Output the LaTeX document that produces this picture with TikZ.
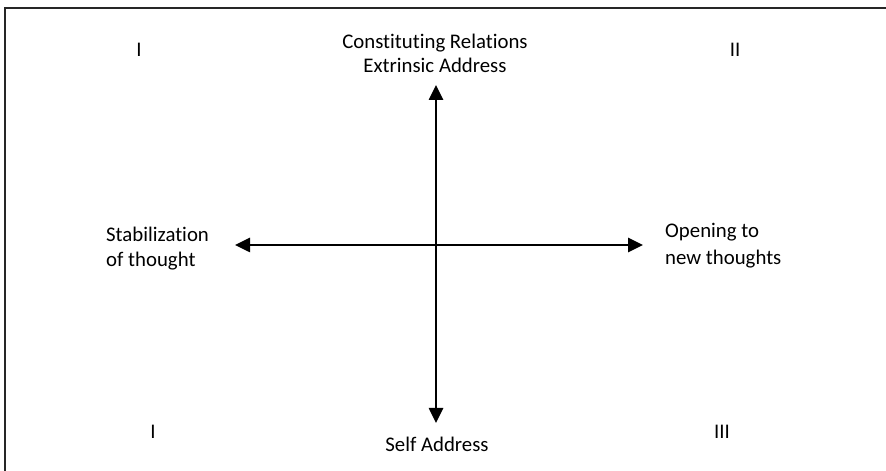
\documentclass[tikz,border=0pt]{standalone}
\usepackage{fontspec}
\setmainfont{Carlito}[Ligatures={NoCommon}]
\usetikzlibrary{arrows.meta}
\begin{document}
\begin{tikzpicture}[x=1pt,y=1pt,
  lbl/.style={inner sep=0pt, anchor=base, font=\fontsize{20.8}{24}\selectfont},
  lblw/.style={lbl, anchor=base west},
  axis/.style={line width=2.6pt, {Triangle[length=15pt,width=14pt]}-{Triangle[length=15pt,width=14pt]}},
  frame/.style={line width=1.6pt, black!85}]
\useasboundingbox (0,0) rectangle (886,471);
\draw[frame] (5,-5) -- (5,462.7) -- (891,462.7);
\coordinate (vtop) at (436,386);
\coordinate (vbot) at (436,48);
\coordinate (hl) at (235,226);
\coordinate (hr) at (643,226);
\draw[axis] (vbot) -- (vtop);
\draw[axis] (hl) -- (hr);
\node[lbl] (q1t) at (139,414) {I};
\node[lbl] (q2) at (735,414) {II};
\node[lbl] (top1) at (435,422) {Constituting Relations};
\node[lbl] (top2) at (435,398) {Extrinsic Address};
\node[lbl] (q1b) at (153,32) {I};
\node[lbl] (q3) at (722,32) {III};
\node[lbl] (bot) at (437,19) {Self Address};
\node[lblw] (left1) at (106,229) {Stabilization};
\node[lblw] (left2) at (106,204) {of thought};
\node[lblw] (right1) at (665,233) {Opening to};
\node[lblw] (right2) at (665,206) {new thoughts};
\end{tikzpicture}
\end{document}
